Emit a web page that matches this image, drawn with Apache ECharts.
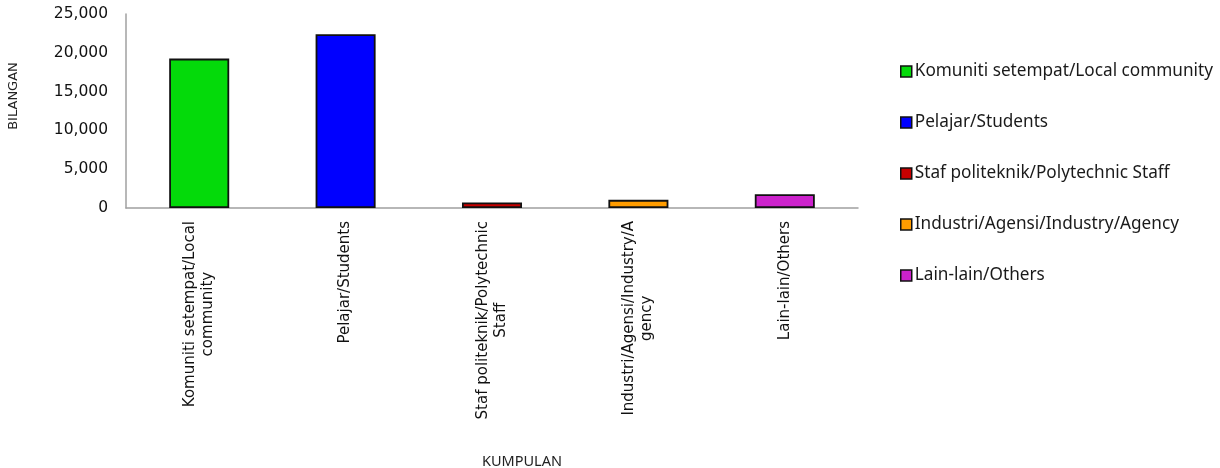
<!DOCTYPE html>
<html>
<head>
<meta charset="utf-8">
<script src="https://cdn.jsdelivr.net/npm/echarts@6/dist/echarts.min.js"></script>
<style>
html,body{margin:0;padding:0;background:#fff;}
#chart{width:1220px;height:468px;}
</style>
</head>
<body>
<div id="chart"></div>
<script>
// ---- data ----
var categories = [
  "Komuniti setempat/Local community",
  "Pelajar/Students",
  "Staf politeknik/Polytechnic Staff",
  "Industri/Agensi/Industry/Agency",
  "Lain-lain/Others"
];
var tickLabels = [
  "Komuniti setempat/Local\ncommunity",
  "Pelajar/Students",
  "Staf politeknik/Polytechnic\nStaff",
  "Industri/Agensi/Industry/A\ngency",
  "Lain-lain/Others"
];
var values = [19250, 22400, 720, 1050, 1780];
var colors = ["#04DA0A", "#0000FF", "#C80000", "#FF9C00", "#CC22CC"];
var yTicks = [0, 5000, 10000, 15000, 20000, 25000];

var chart = echarts.init(document.getElementById('chart'), null, {renderer: 'canvas'});

var series = categories.map(function (name, i) {
  var d = categories.map(function (c, j) { return j === i ? values[i] : null; });
  return {
    name: name,
    type: 'bar',
    stack: 'all',
    barWidth: '41%',
    data: d,
    itemStyle: { color: colors[i], borderColor: '#111', borderWidth: 1.8 },
    emphasis: { disabled: true }
  };
});

var option = {
  backgroundColor: '#fff',
  animation: false,
  color: colors,
  grid: { left: 126, right: 362, top: 14, bottom: 260, containLabel: false, outerBoundsMode: 'none' },
  legend: {
    orient: 'vertical',
    left: 900,
    top: 63,
    padding: 0,
    itemWidth: 11,
    itemHeight: 11,
    itemGap: 34,
    icon: 'rect',
    itemStyle: { borderColor: '#111', borderWidth: 1.5 },
    textStyle: { fontFamily: 'Noto Sans', fontSize: 17.2, color: '#1a1a1a', lineHeight: 16, padding: [0, 0, 0, -2] },
    data: categories
  },
  xAxis: {
    type: 'category',
    data: tickLabels,
    name: 'KUMPULAN',
    nameLocation: 'middle',
    nameGap: 246,
    nameTextStyle: { fontFamily: 'Noto Sans', fontSize: 14.5, color: '#222', padding: [0, 0, 0, 60] },
    axisLine: { show: true, lineStyle: { color: '#a0a0a0', width: 1.5 } },
    axisTick: { show: false },
    axisLabel: {
      rotate: 90,
      margin: 13,
      interval: 0,
      fontFamily: 'DejaVu Sans',
      fontSize: 15,
      color: '#111',
      formatter: function (v) {
        return v.split('\n').map(function (s) { return '{c|' + s + '}'; }).join('\n');
      },
      rich: {
        c: { align: 'center', fontFamily: 'DejaVu Sans', fontSize: 15, color: '#111', lineHeight: 18 }
      }
    }
  },
  yAxis: {
    type: 'value',
    min: yTicks[0],
    max: yTicks[yTicks.length - 1],
    interval: yTicks[1] - yTicks[0],
    name: 'BILANGAN',
    nameLocation: 'middle',
    nameRotate: 90,
    nameGap: 106,
    nameTextStyle: { fontFamily: 'DejaVu Sans', fontSize: 13, color: '#222', padding: [0, 0, 0, 30] },
    axisLine: { show: true, lineStyle: { color: '#a0a0a0', width: 1.5 } },
    axisTick: { show: false },
    splitLine: { show: false },
    axisLabel: {
      margin: 18,
      fontFamily: 'DejaVu Sans',
      fontSize: 15.5,
      color: '#111',
      formatter: function (v) { return v.toLocaleString('en-US'); }
    }
  },
  series: series
};
chart.setOption(option);
</script>
</body>
</html>
